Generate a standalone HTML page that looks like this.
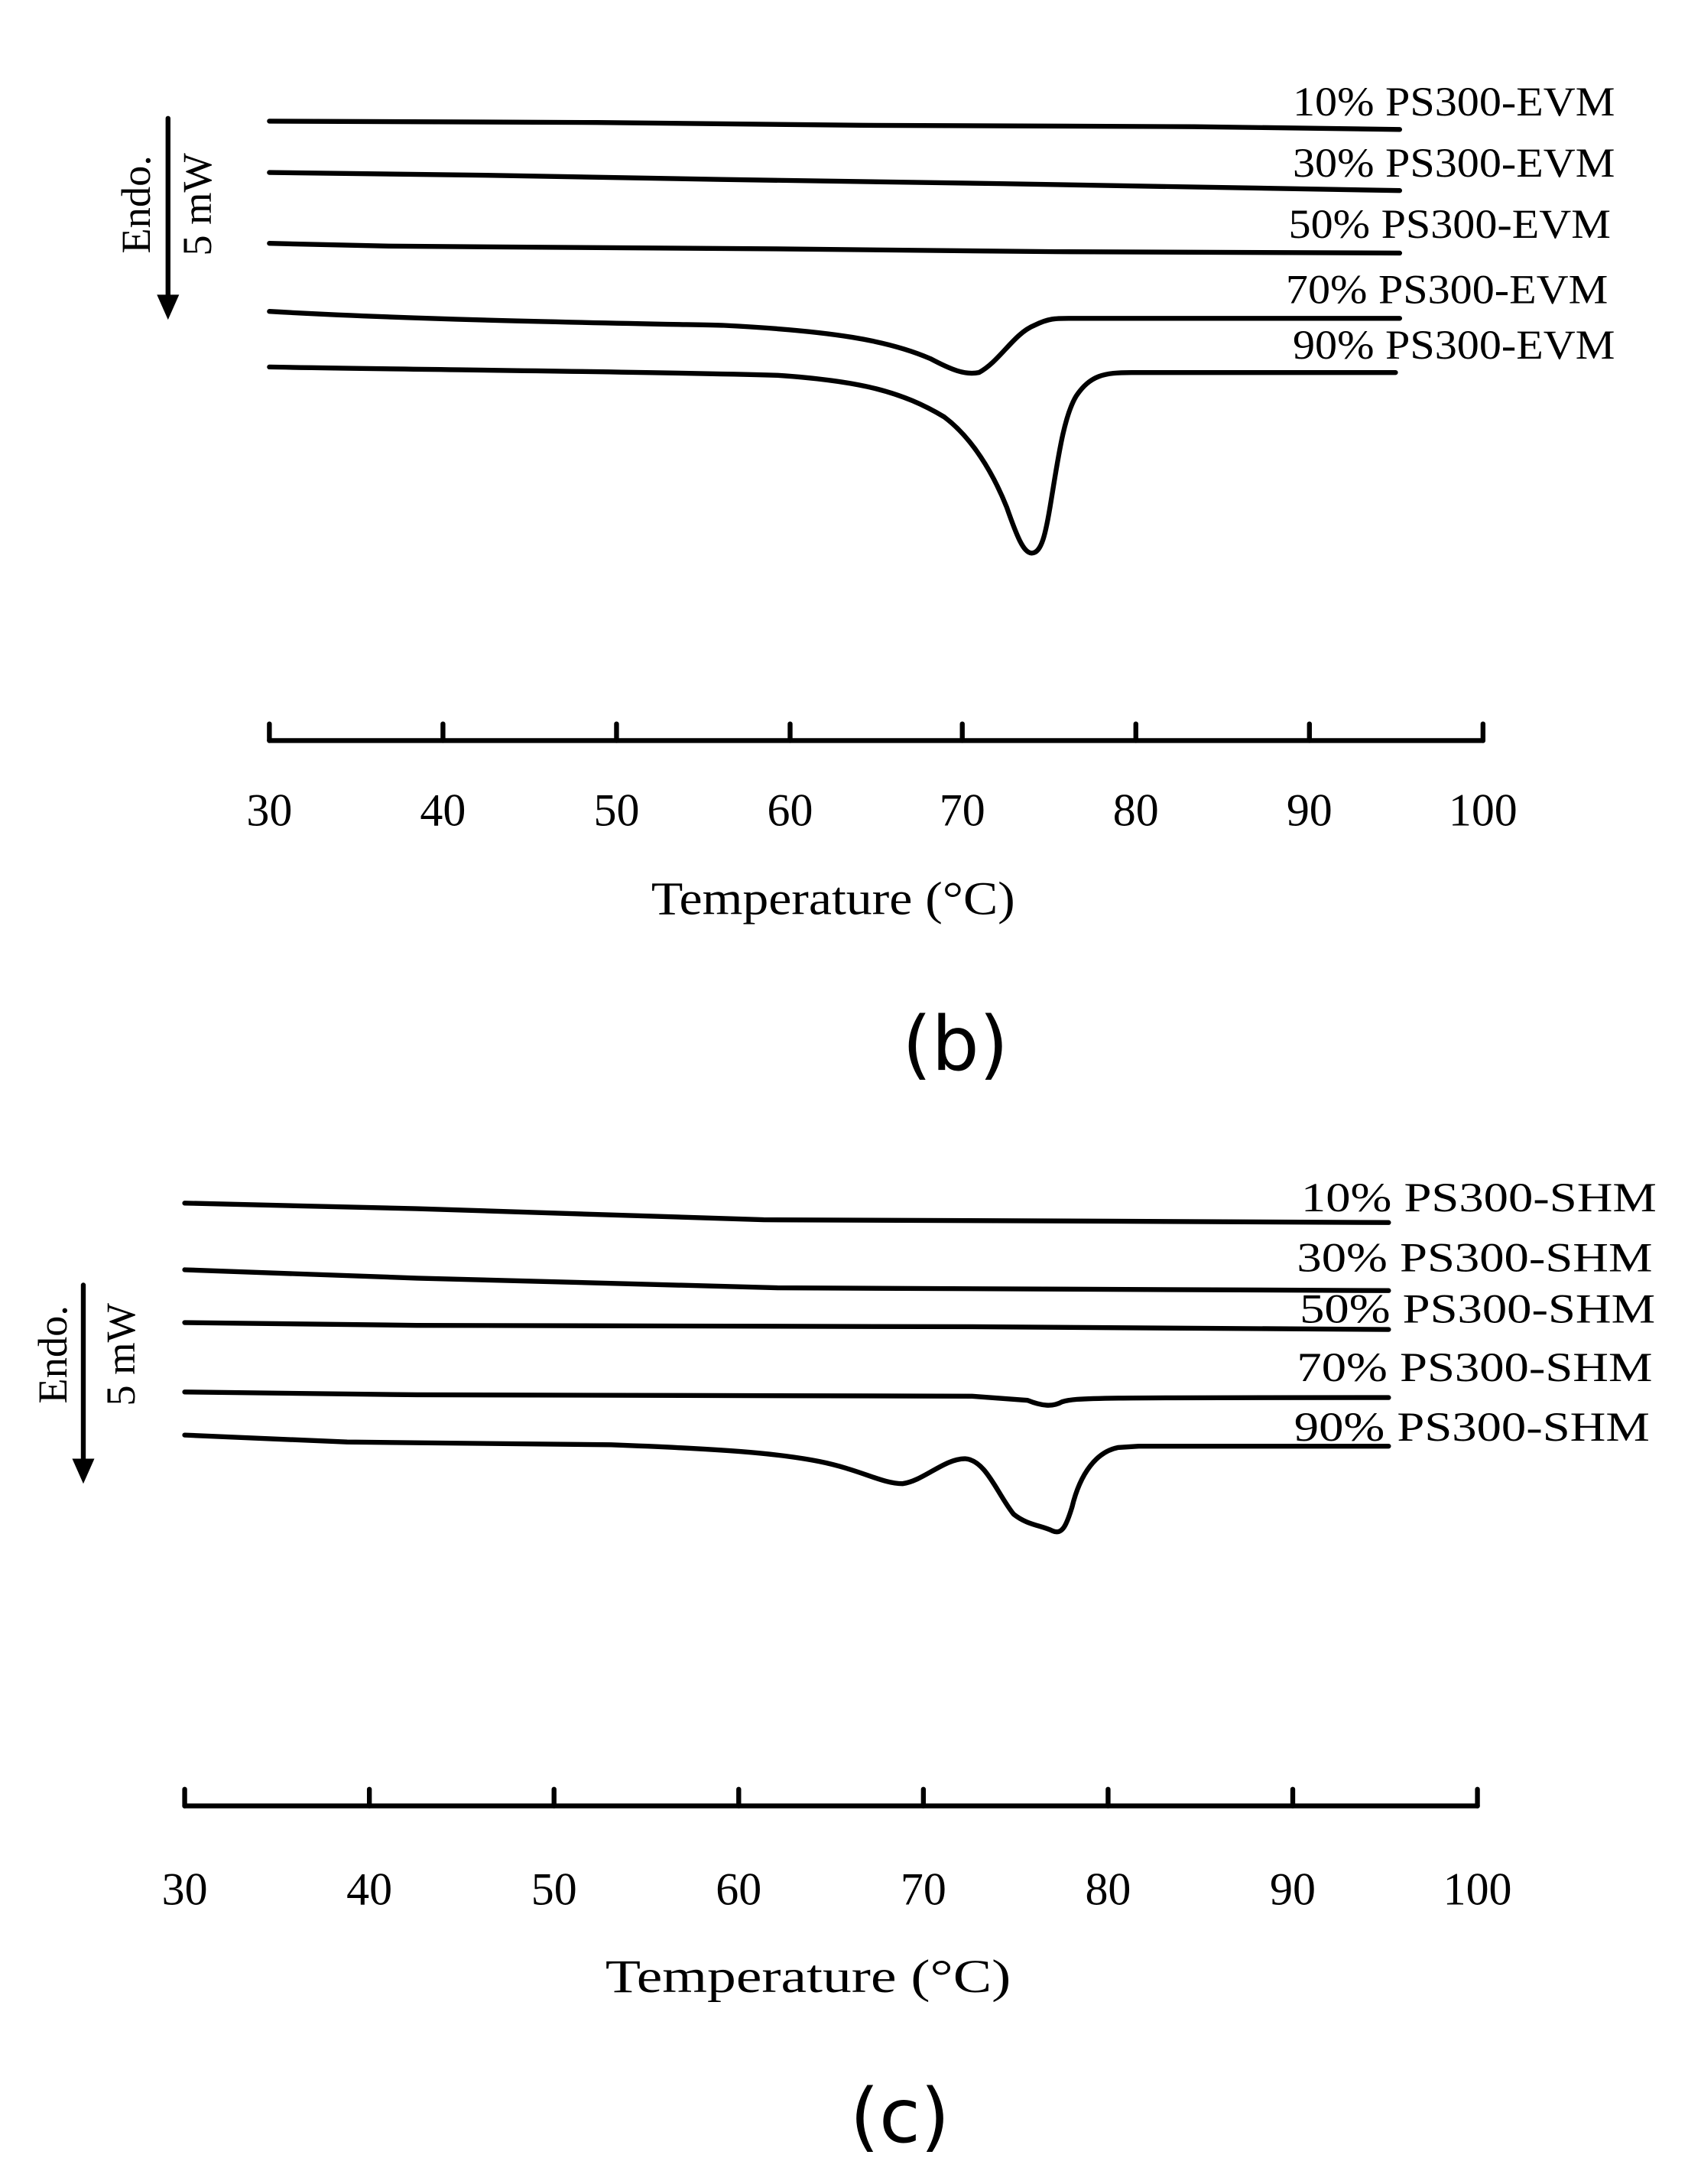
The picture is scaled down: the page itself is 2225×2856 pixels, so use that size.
<!DOCTYPE html>
<html><head><meta charset="utf-8"><style>html,body{margin:0;padding:0;background:#fff}svg{display:block}</style></head>
<body>
<svg width="2225" height="2856" viewBox="0 0 1225 1572" xmlns="http://www.w3.org/2000/svg">
<rect width="1225" height="1572" fill="#fff"/>
<g fill="none" stroke="#000" stroke-width="3.5" stroke-linejoin="round" stroke-linecap="round">
<!-- panel b -->
<path d="M194,87 L430,88 L620,90 L860,91 L1008,93"/>
<path d="M194,124 L350,126 L520,129 L720,132 L1008,137"/>
<path d="M194,175 L280,177 L560,179 L760,181 L1008,182"/>
<path d="M194,224 C300,230 420,232 520,234 C600,238 640,245 670,258 C685,266 695,270 705,268 C720,260 730,240 745,234 C755,229 760,229 770,229 L1008,229"/>
<path d="M194,264 C300,266 450,267 560,270 C620,274 650,282 680,300 C700,315 715,340 725,365 C732,385 737,398 743,398 C750,398 753,385 757,360 C762,330 766,300 775,285 C785,270 795,268 815,268 L1005,268"/>
<path d="M194,533 L1068,533"/>
<path d="M194,533 V521 M319,533 V521 M444,533 V521 M569,533 V521 M693,533 V521 M818,533 V521 M943,533 V521 M1068,533 V521"/>
<path d="M121,85 L121,218"/>
<!-- panel c -->
<path d="M133,866 L300,870 L550,878 L800,879 L1000,880"/>
<path d="M133,914 L300,920 L450,924 L560,927 L1000,929"/>
<path d="M133,952 L300,954 L700,955 L1000,957"/>
<path d="M133,1002 L300,1004 L700,1005 L740,1008 C750,1012 758,1013 765,1009 C775,1006 785,1006 1000,1006"/>
<path d="M133,1033 L250,1038 L440,1040 C520,1043 560,1046 590,1052 C620,1058 635,1068 650,1068 C665,1066 680,1050 695,1050 C710,1051 718,1075 730,1090 C740,1098 750,1098 758,1102 C765,1105 768,1098 772,1085 C778,1060 790,1045 805,1042 L820,1041 L1000,1041"/>
<path d="M133,1300 L1064,1300"/>
<path d="M133,1300 V1288 M266,1300 V1288 M399,1300 V1288 M532,1300 V1288 M665,1300 V1288 M798,1300 V1288 M931,1300 V1288 M1064,1300 V1288"/>
<path d="M60,925 L60,1057"/>
</g>
<polygon points="113,212 129,212 121,230" fill="#000"/>
<polygon points="52,1050 68,1050 60,1068" fill="#000"/>
<g font-family="Liberation Serif, serif" fill="#000">
<g font-size="30" text-anchor="end" lengthAdjust="spacingAndGlyphs">
<text x="1163" y="83" textLength="232" lengthAdjust="spacingAndGlyphs">10% PS300-EVM</text>
<text x="1163" y="127" textLength="232" lengthAdjust="spacingAndGlyphs">30% PS300-EVM</text>
<text x="1160" y="171" textLength="232" lengthAdjust="spacingAndGlyphs">50% PS300-EVM</text>
<text x="1158" y="218" textLength="232" lengthAdjust="spacingAndGlyphs">70% PS300-EVM</text>
<text x="1163" y="258" textLength="232" lengthAdjust="spacingAndGlyphs">90% PS300-EVM</text>
<text x="1193" y="872" textLength="256" lengthAdjust="spacingAndGlyphs">10% PS300-SHM</text>
<text x="1190" y="915" textLength="256" lengthAdjust="spacingAndGlyphs">30% PS300-SHM</text>
<text x="1192" y="952" textLength="256" lengthAdjust="spacingAndGlyphs">50% PS300-SHM</text>
<text x="1190" y="994" textLength="256" lengthAdjust="spacingAndGlyphs">70% PS300-SHM</text>
<text x="1188" y="1037" textLength="256" lengthAdjust="spacingAndGlyphs">90% PS300-SHM</text>
</g>
<g font-size="33" text-anchor="middle">
<text x="194" y="594">30</text><text x="319" y="594">40</text><text x="444" y="594">50</text><text x="569" y="594">60</text><text x="693" y="594">70</text><text x="818" y="594">80</text><text x="943" y="594">90</text><text x="1068" y="594">100</text>
<text x="133" y="1371">30</text><text x="266" y="1371">40</text><text x="399" y="1371">50</text><text x="532" y="1371">60</text><text x="665" y="1371">70</text><text x="798" y="1371">80</text><text x="931" y="1371">90</text><text x="1064" y="1371">100</text>
</g>
<g font-size="34" text-anchor="middle">
<text x="600" y="658" textLength="262" lengthAdjust="spacingAndGlyphs">Temperature (°C)</text>
<text x="582" y="1434" textLength="292" lengthAdjust="spacingAndGlyphs">Temperature (°C)</text>
</g>
<g font-size="30" text-anchor="middle">
<text transform="translate(108,147) rotate(-90)">Endo.</text>
<text transform="translate(152,147) rotate(-90)">5 mW</text>
<text transform="translate(48,975) rotate(-90)">Endo.</text>
<text transform="translate(97,975) rotate(-90)">5 mW</text>
</g>
</g>
<g font-family="DejaVu Sans, Liberation Sans, sans-serif" font-size="54" text-anchor="middle" fill="#000">
<text x="688" y="770">(b)</text>
<text x="648" y="1542">(c)</text>
</g>
</svg>
</body></html>
